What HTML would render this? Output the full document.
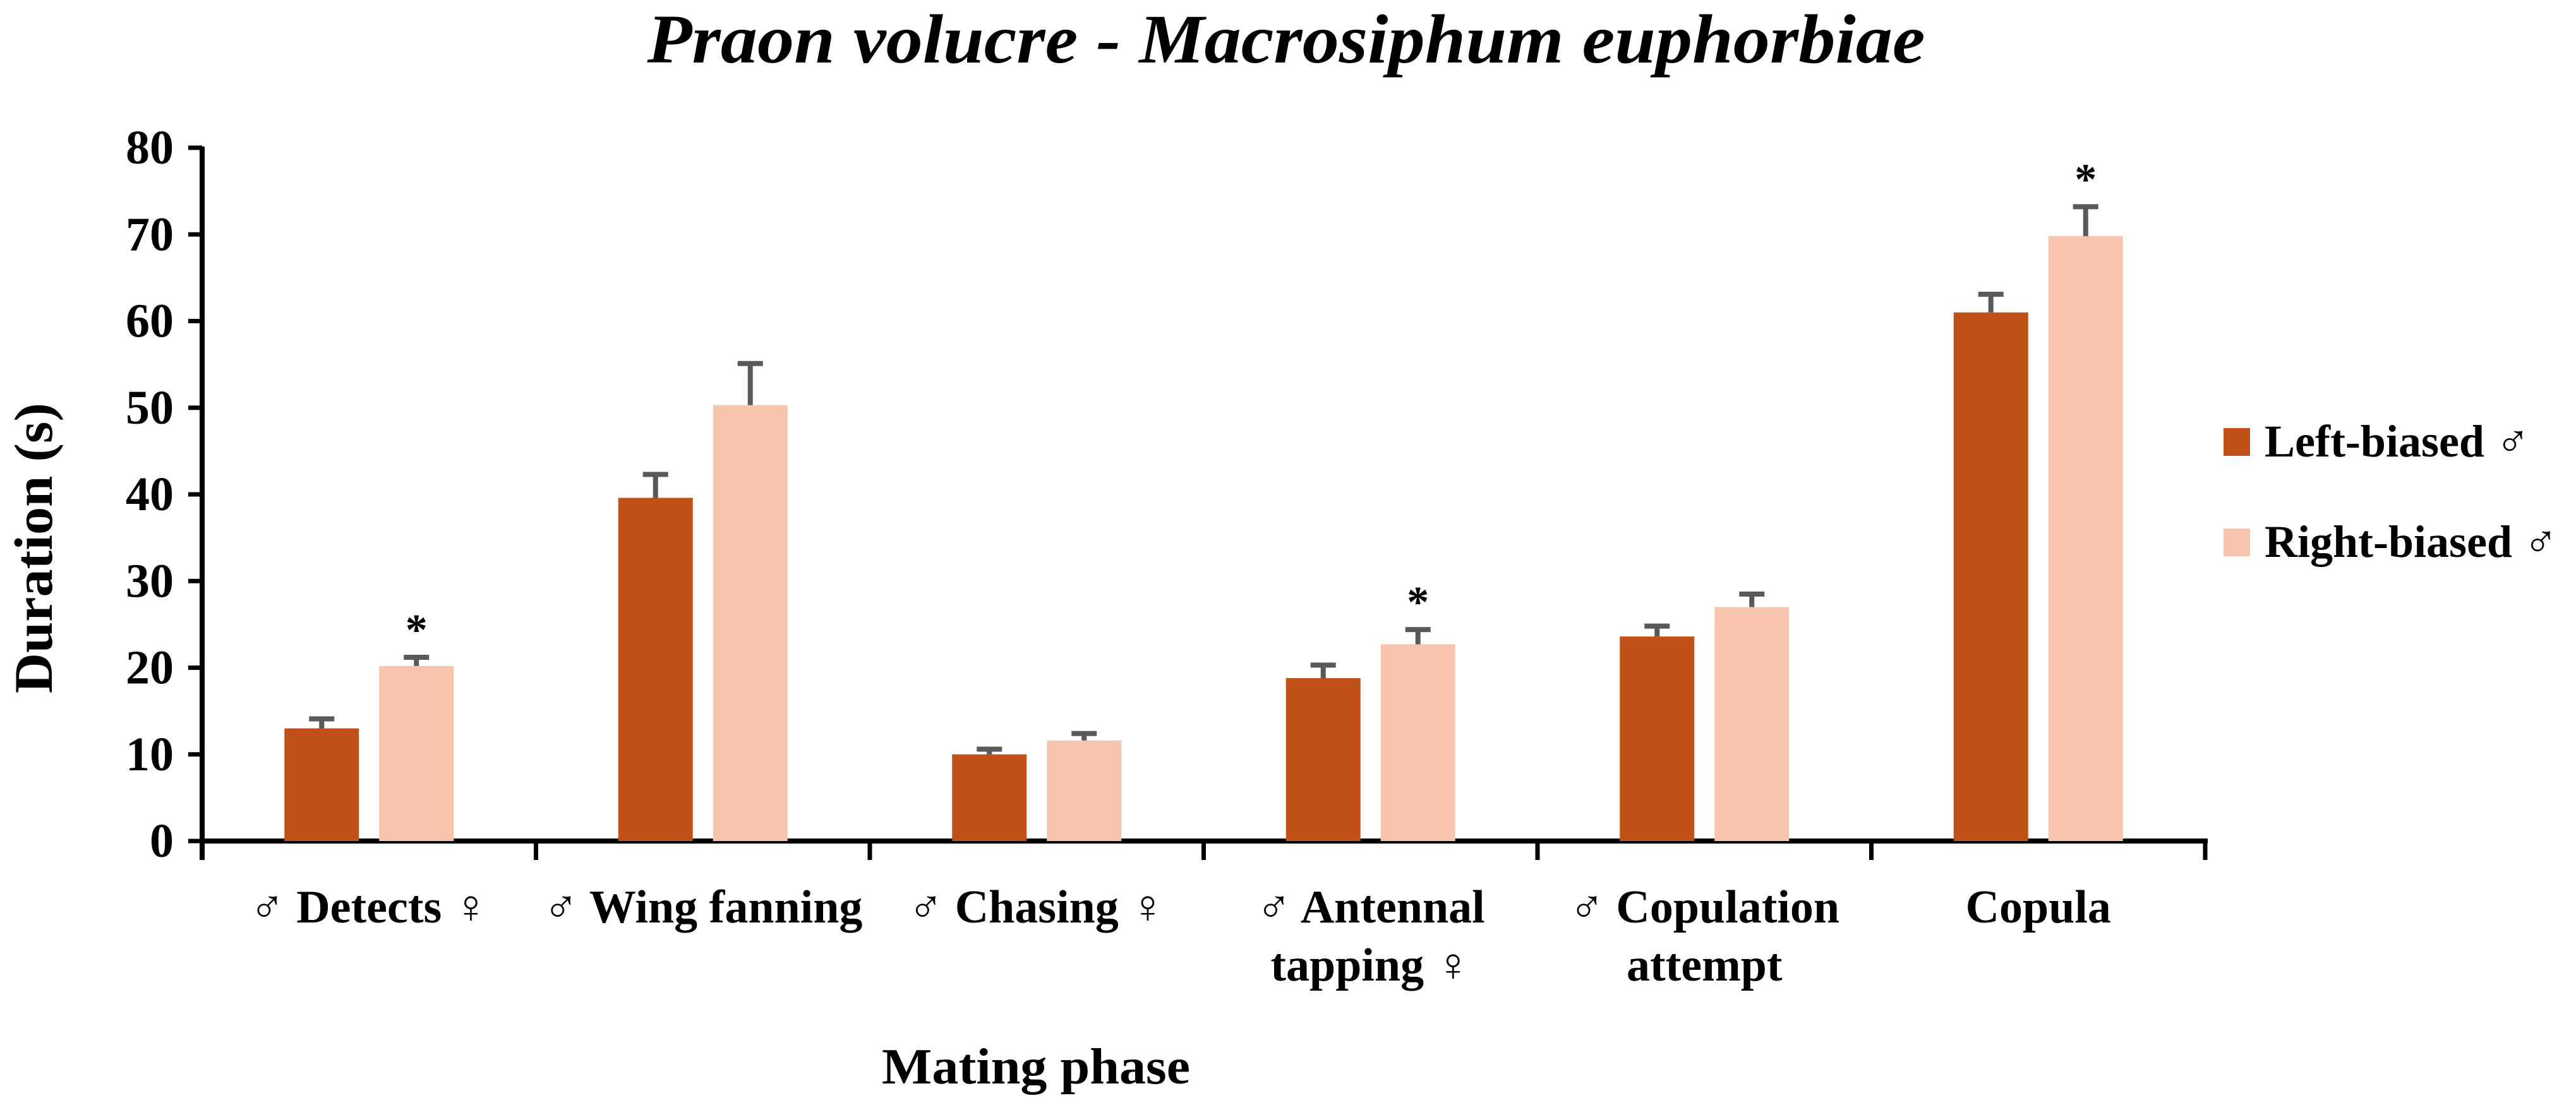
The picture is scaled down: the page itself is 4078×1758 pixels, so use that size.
<!DOCTYPE html>
<html><head><meta charset="utf-8"><style>
html,body{margin:0;padding:0;background:#fff;}
svg{display:block;}
text{font-family:"Liberation Serif","DejaVu Serif",serif;font-weight:bold;fill:#000;}
</style></head><body>
<svg id="chart" width="4078" height="1758" viewBox="0 0 4078 1758" xmlns="http://www.w3.org/2000/svg">
<text x="2036" y="99" text-anchor="middle" font-size="110" font-style="italic" textLength="2023" lengthAdjust="spacingAndGlyphs">Praon volucre - Macrosiphum euphorbiae</text>
<text transform="translate(82,868) rotate(-90)" text-anchor="middle" font-size="86" textLength="460" lengthAdjust="spacingAndGlyphs">Duration (s)</text>
<text x="1640" y="1716" text-anchor="middle" font-size="80" textLength="488" lengthAdjust="spacingAndGlyphs">Mating phase</text>
<g id="axes"></g>
<g id="bars"></g>
<g id="legend">
  <rect x="3520" y="678" width="42" height="44" fill="#bf5018"/>
  <text x="3585" y="723" font-size="72">Left-biased ♂</text>
  <rect x="3520" y="837" width="42" height="44" fill="#f6c5ab"/>
  <text x="3585" y="882" font-size="72">Right-biased ♂</text>
</g>
</svg>
<script>
const categories = [["♂ Detects ♀"],["♂ Wing fanning"],["♂ Chasing ♀"],["♂ Antennal","tapping ♀"],["♂ Copulation","attempt"],["Copula"]];
const leftValues = [13.0, 39.6, 10.0, 18.8, 23.6, 61.0];
const rightValues = [20.2, 50.3, 11.6, 22.7, 27.0, 69.8];
const leftErrors = [1.1, 2.7, 0.6, 1.5, 1.2, 2.1];
const rightErrors = [1.0, 4.8, 0.8, 1.7, 1.5, 3.4];
const leftSig = [false, false, false, false, false, false];
const rightSig = [true, false, false, true, false, true];
const yTicks = [0, 10, 20, 30, 40, 50, 60, 70, 80];

const NS = "http://www.w3.org/2000/svg";
const x0 = 320, x1 = 3491, yTop = 234, yBot = 1332, yMax = 80;
const catW = (x1 - x0) / categories.length;
function yScale(v){ return yBot - (v / yMax) * (yBot - yTop); }
function xCenter(i){ return x0 + catW * (i + 0.5); }
function mk(tag, attrs, parent){
  const e = document.createElementNS(NS, tag);
  for (const k in attrs) e.setAttribute(k, attrs[k]);
  parent.appendChild(e); return e;
}
const axes = document.getElementById('axes');
const bars = document.getElementById('bars');

let a = mk('line', {x1:x0, y1:yTop-2, x2:x0, y2:yBot+30, stroke:'#000', 'stroke-width':8}, axes);


a = mk('line', {x1:x0-4, y1:yBot, x2:x1+4, y2:yBot, stroke:'#000', 'stroke-width':8}, axes);



yTicks.forEach(t => {
  const y = yScale(t);
  const tk = mk('line', {x1:x0-22, y1:y, x2:x0, y2:y, stroke:'#000', 'stroke-width':7}, axes);
  
  
  const lb = mk('text', {x:x0-45, y:y+25, 'text-anchor':'end', 'font-size':76}, axes);
  lb.textContent = t;
  
  
});
for (let i = 0; i <= categories.length; i++){
  const x = x0 + catW * i;
  const tk = mk('line', {x1:x, y1:yBot, x2:x, y2:yBot+30, stroke:'#000', 'stroke-width':7}, axes);
  
  
}
categories.forEach((lines, i) => {
  lines.forEach((ln, j) => {
    const t = mk('text', {x:xCenter(i), y:1461 + j*92, 'text-anchor':'middle', 'font-size':74}, axes);
    t.textContent = ln;
    
    
  });
});

const barW = 118, off = 75;
function drawBar(i, v, err, sig, dx, color, name){
  const cx = xCenter(i) + dx;
  const y = yScale(v);
  const r = mk('rect', {x:cx-barW/2, y:y, width:barW, height:yBot-y, fill:color}, bars);
  
  
  const ye = yScale(v + err);
  const l = mk('path', {d:`M${cx},${y} V${ye} M${cx-20},${ye} H${cx+20}`, stroke:'#595959', 'stroke-width':8, fill:'none'}, bars);
  
  
  if (sig){
    const s = mk('text', {x:cx, y:ye-20, 'text-anchor':'middle', 'font-size':70}, bars);
    s.textContent = '*';
    
    
  }
}
categories.forEach((c, i) => {
  drawBar(i, leftValues[i], leftErrors[i], leftSig[i], -off, '#bf5018', 'bar-left-biased');
  drawBar(i, rightValues[i], rightErrors[i], rightSig[i], off, '#f6c5ab', 'bar-right-biased');
});
</script>
</body></html>
